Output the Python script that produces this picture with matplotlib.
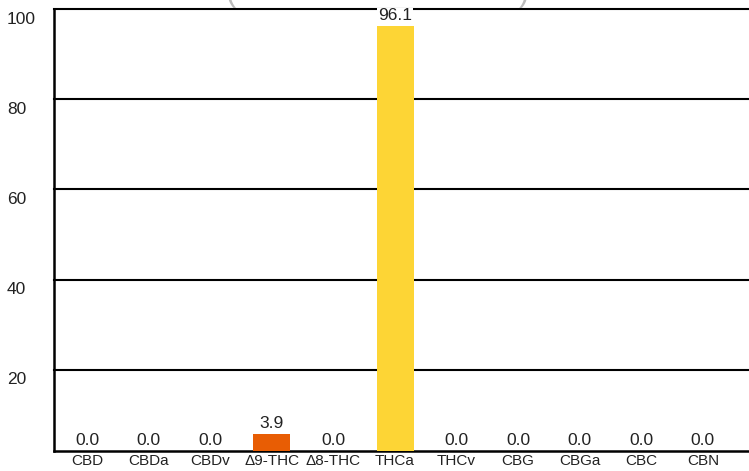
import matplotlib
matplotlib.use("Agg")
import matplotlib.pyplot as plt
from matplotlib import transforms

plt.rcParams['font.family'] = ['Liberation Sans', 'DejaVu Sans']

# cannabinoid profile (%)
cannabinoids = ['CBD', 'CBDa', 'CBDv', 'Δ9-THC', 'Δ8-THC', 'THCa',
                'THCv', 'CBG', 'CBGa', 'CBC', 'CBN']
percent = [0.0, 0.0, 0.0, 3.9, 0.0, 96.1, 0.0, 0.0, 0.0, 0.0, 0.0]
bar_colors = ['#4caf50', '#66bb6a', '#81c784', '#e85d04', '#f48c06', '#fdd535',
              '#90caf9', '#64b5f6', '#42a5f5', '#ab47bc', '#8d6e63']
grid_ticks = [20, 40, 60, 80, 100]

W, H, DPI = 749, 471, 100
fig = plt.figure(figsize=(W / DPI, H / DPI), dpi=DPI)
rect = [54 / W, 1 - 451 / H, 695 / W, 442 / H]

# background axes: grid lines and y labels
ax_grid = fig.add_axes(rect)
ax_grid.set_ylim(2, 100)
ax_grid.set_xlim(0, 1)
for v in grid_ticks:
    ax_grid.axhline(v, color='black', lw=1.5, zorder=1, clip_on=False)
for s in ['right', 'top']:
    ax_grid.spines[s].set_visible(False)
for s in ['left', 'bottom']:
    ax_grid.spines[s].set_linewidth(1.8)
ax_grid.set_xticks([])
ax_grid.set_yticks([])

lab_tr = transforms.blended_transform_factory(fig.transFigure, ax_grid.transData) \
    + transforms.ScaledTranslation(0, -10 / DPI, fig.dpi_scale_trans)
for v in grid_ticks:
    fig.text(7 / W, v, str(v), transform=lab_tr, ha='left', va='center',
             fontsize=12.5, color='#222222')

# foreground axes: bars
ax = fig.add_axes(rect)
ax.patch.set_visible(False)
x = list(range(len(cannabinoids)))
bars = ax.bar(x, percent, width=0.6, color=bar_colors, zorder=3)
ax.set_ylim(0, 100)
ax.set_xlim(-0.54, len(cannabinoids) - 0.25)
for s in ax.spines.values():
    s.set_visible(False)
ax.set_yticks([])
ax.set_xticks(x, cannabinoids, fontsize=11, color='#222222')
ax.tick_params(axis='x', length=0, pad=2)

texts = ax.bar_label(bars, fmt='%.1f', padding=2, fontsize=12.5, color='#222222')
for t in texts:
    t.set_clip_on(False)
    t.set_zorder(5)
    t.set_bbox(dict(facecolor='white', edgecolor='none', pad=0.5))

# title is cut off at the top, only the bracket ends show
fig.text(230 / W, 1 - 8 / H, '(', fontsize=22, color='#bbbbbb', ha='center', va='bottom')
fig.text(524 / W, 1 - 8 / H, ')', fontsize=22, color='#bbbbbb', ha='center', va='bottom')

fig.savefig('out.png', dpi=DPI)
